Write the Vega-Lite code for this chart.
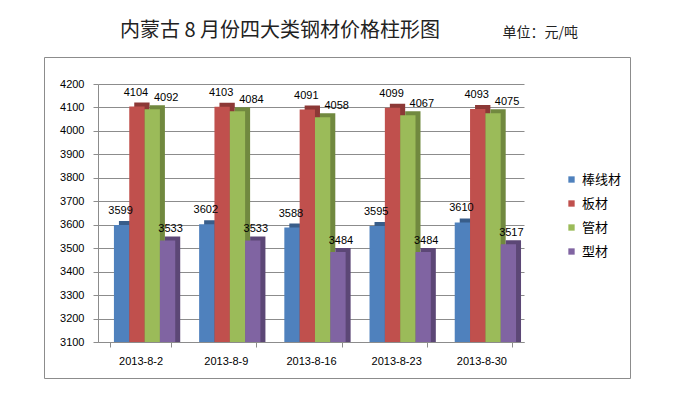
{
  "$schema": "https://vega.github.io/schema/vega-lite/v6.json",
  "width": 586,
  "height": 321,
  "autosize": {"type": "none"},
  "padding": {"left": 44, "top": 57, "right": 43, "bottom": 31},
  "background": "white",
  "config": {
    "view": {"stroke": "#8c8c8c", "strokeWidth": 1},
    "font": "Liberation Sans"
  },
  "title": {
    "text": "内蒙古 8 月份四大类钢材价格柱形图",
    "anchor": "start",
    "frame": "group",
    "dx": 76,
    "offset": -16,
    "font": "Noto Sans CJK SC",
    "fontSize": 20,
    "fontWeight": "normal",
    "color": "#222222"
  },
  "data": {
    "values": [
      {"date": "2013-8-2", "type": "棒线材", "value": 3599},
      {"date": "2013-8-2", "type": "板材", "value": 4104},
      {"date": "2013-8-2", "type": "管材", "value": 4092},
      {"date": "2013-8-2", "type": "型材", "value": 3533},
      {"date": "2013-8-9", "type": "棒线材", "value": 3602},
      {"date": "2013-8-9", "type": "板材", "value": 4103},
      {"date": "2013-8-9", "type": "管材", "value": 4084},
      {"date": "2013-8-9", "type": "型材", "value": 3533},
      {"date": "2013-8-16", "type": "棒线材", "value": 3588},
      {"date": "2013-8-16", "type": "板材", "value": 4091},
      {"date": "2013-8-16", "type": "管材", "value": 4058},
      {"date": "2013-8-16", "type": "型材", "value": 3484},
      {"date": "2013-8-23", "type": "棒线材", "value": 3595},
      {"date": "2013-8-23", "type": "板材", "value": 4099},
      {"date": "2013-8-23", "type": "管材", "value": 4067},
      {"date": "2013-8-23", "type": "型材", "value": 3484},
      {"date": "2013-8-30", "type": "棒线材", "value": 3610},
      {"date": "2013-8-30", "type": "板材", "value": 4093},
      {"date": "2013-8-30", "type": "管材", "value": 4075},
      {"date": "2013-8-30", "type": "型材", "value": 3517}
    ]
  },
  "encoding": {
    "x": {
      "field": "date",
      "type": "nominal",
      "sort": ["2013-8-2", "2013-8-9", "2013-8-16", "2013-8-23", "2013-8-30"],
      "scale": {"range": [54, 480], "paddingInner": 0.28, "paddingOuter": 0.14},
      "axis": {
        "title": null,
        "offset": -36,
        "labelAngle": 0,
        "labelFont": "Liberation Sans",
        "labelFontSize": 11,
        "labelColor": "#000000",
        "labelPadding": 8,
        "domainColor": "#8c8c8c",
        "tickColor": "#8c8c8c",
        "tickSize": 5,
        "tickBand": "extent",
        "grid": false
      }
    },
    "y": {
      "field": "value",
      "type": "quantitative",
      "scale": {"domain": [3100, 4200], "range": [285, 27], "zero": false, "nice": false},
      "axis": {
        "offset": -54,
        "values": [3100, 3200, 3300, 3400, 3500, 3600, 3700, 3800, 3900, 4000, 4100, 4200],
        "format": "d",
        "grid": true,
        "gridColor": "#8c8c8c",
        "domainColor": "#8c8c8c",
        "tickColor": "#8c8c8c",
        "tickSize": 5,
        "labelFont": "Liberation Sans",
        "labelFontSize": 11,
        "labelColor": "#000000",
        "labelPadding": 9,
        "title": "单位：元/吨",
        "titleAngle": 0,
        "titleAlign": "left",
        "titleBaseline": "middle",
        "titleX": 404,
        "titleY": -25,
        "titleFont": "Noto Sans CJK SC",
        "titleFontSize": 14,
        "titleFontWeight": "normal",
        "titleColor": "#222222"
      }
    }
  },
  "layer": [
    {
      "mark": {"type": "bar", "yOffset": -4},
      "encoding": {
        "xOffset": {
          "field": "type",
          "sort": ["棒线材", "板材", "管材", "型材"],
          "scale": {"range": [9, 70.3]}
        },
        "y2": {"datum": 3100},
        "color": {
          "field": "type",
          "type": "nominal",
          "sort": ["棒线材", "板材", "管材", "型材"],
          "scale": {"range": ["#385d8a", "#8c3836", "#71893f", "#5c4776"]},
          "legend": null
        }
      }
    },
    {
      "layer": [
        {
          "mark": {"type": "bar"},
          "encoding": {
            "y2": {"datum": 3100},
            "color": {
              "field": "type",
              "type": "nominal",
              "sort": ["棒线材", "板材", "管材", "型材"],
              "scale": {"range": ["#4f81bd", "#c0504d", "#9bbb59", "#8064a2"]},
              "legend": {
                "title": null,
                "orient": "none",
                "legendX": 521,
                "legendY": 116,
                "symbolType": "square",
                "symbolSize": 40,
                "symbolStrokeWidth": 0,
                "labelFont": "Noto Sans CJK SC",
                "labelFontSize": 13,
                "labelColor": "#000000",
                "labelOffset": 4,
                "rowPadding": 10
              }
            }
          }
        },
        {
          "transform": [{"filter": "datum.type === '棒线材' || datum.type === '板材'"}],
          "mark": {"type": "text", "baseline": "bottom", "dy": -9, "dx": -1, "font": "Liberation Sans", "fontSize": 11, "color": "#000000"},
          "encoding": {
            "text": {"field": "value", "type": "quantitative", "format": "d"}
          }
        },
        {
          "transform": [{"filter": "datum.type === '管材'"}],
          "mark": {"type": "text", "baseline": "bottom", "dy": -6, "dx": 14, "font": "Liberation Sans", "fontSize": 11, "color": "#000000"},
          "encoding": {
            "text": {"field": "value", "type": "quantitative", "format": "d"}
          }
        },
        {
          "transform": [{"filter": "datum.type === '型材'"}],
          "mark": {"type": "text", "baseline": "bottom", "dy": -6, "dx": 3, "font": "Liberation Sans", "fontSize": 11, "color": "#000000"},
          "encoding": {
            "text": {"field": "value", "type": "quantitative", "format": "d"}
          }
        }
      ],
      "encoding": {
        "xOffset": {
          "field": "type",
          "sort": ["棒线材", "板材", "管材", "型材"],
          "scale": {"range": [4, 65.3]}
        }
      }
    }
  ],
  "resolve": {"scale": {"color": "independent", "xOffset": "independent"}}
}
